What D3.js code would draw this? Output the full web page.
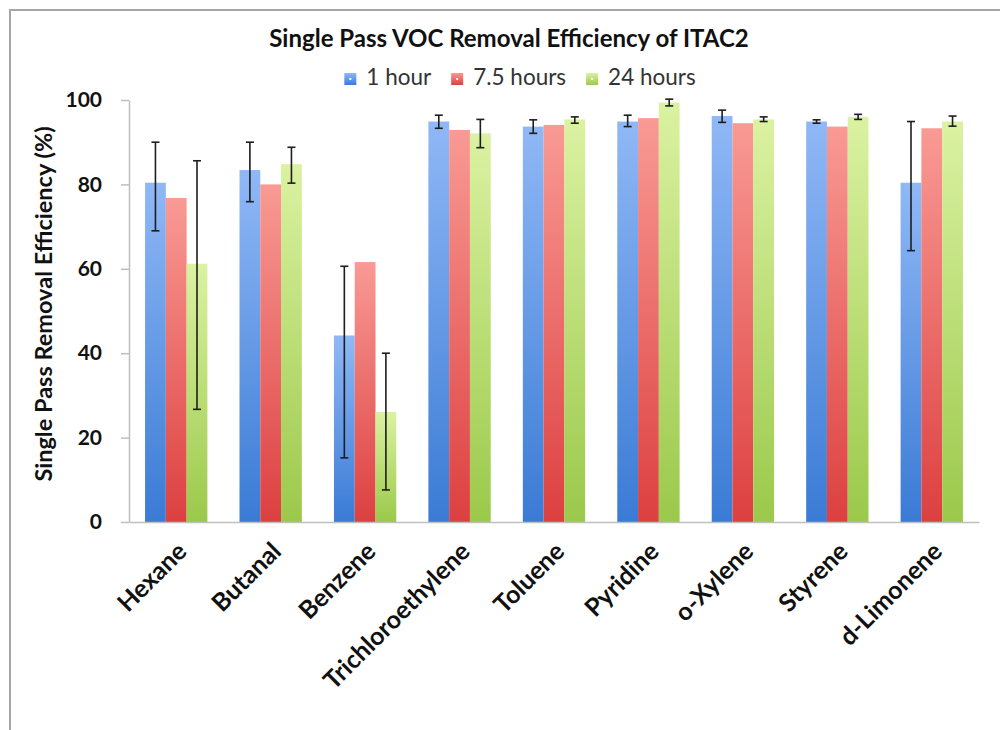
<!DOCTYPE html>
<html>
<head>
<meta charset="utf-8">
<script src="https://cdn.jsdelivr.net/npm/d3@7"></script>
<style>
  body { margin: 0; background: #fff; }
  svg { display: block; font-family: Lato, "Open Sans", sans-serif; }
</style>
</head>
<body>
<svg id="canvas"></svg>
<script>
// chart data
let compounds = ["Hexane", "Butanal", "Benzene", "Trichloroethylene", "Toluene",
  "Pyridine", "o-Xylene", "Styrene", "d-Limonene"];
let seriesNames = ["1 hour", "7.5 hours", "24 hours"];

let hour1 = [80.4, 83.4, 44.2, 94.9, 93.7, 94.9, 96.2, 94.9, 80.4];
let hour7 = [76.8, 80.0, 61.6, 92.9, 94.1, 95.7, 94.5, 93.7, 93.3];
let hour24 = [61.2, 84.8, 26.1, 92.1, 95.4, 99.4, 95.4, 96.0, 94.9];

// error bar ends (low / high)
let hour1Lo = [69.0, 75.9, 15.2, 93.3, 92.1, 93.7, 94.7, 94.5, 64.3];
let hour1Hi = [90.0, 90.0, 60.6, 96.4, 95.3, 96.4, 97.6, 95.3, 94.9];
let hour24Lo = [26.7, 80.3, 7.6, 88.7, 94.5, 98.6, 94.9, 95.4, 93.8];
let hour24Hi = [85.6, 88.8, 40.0, 95.4, 96.0, 100.2, 96.0, 96.6, 96.2];

let yTicks = [0, 20, 40, 60, 80, 100];

let width = 1000;
let height = 730;
let plotLeft = 129, plotRight = 979, plotTop = 100, plotBottom = 522;

let canvas = d3.select("#canvas").attr("width", width).attr("height", height);

// outer chart frame
canvas.append("path")
  .attr("d", "M10,740 L10,10 L1010,10")
  .attr("fill", "none")
  .attr("stroke", "#a6a6a6")
  .attr("stroke-width", 2);

let defs = canvas.append("defs");
let gradColors = [["#90b8f6", "#3a7bd5"], ["#f99a94", "#dc4040"], ["#dbf2a2", "#9bc94b"]];
gradColors.forEach((c, i) => {
  let g = defs.append("linearGradient")
    .attr("id", "grad" + i)
    .attr("x1", 0).attr("y1", 0).attr("x2", 0).attr("y2", 1);
  g.append("stop").attr("offset", "0%").attr("stop-color", c[0]);
  g.append("stop").attr("offset", "100%").attr("stop-color", c[1]);
});

let xScale = d3.scaleBand()
  .domain(compounds)
  .range([plotLeft, plotRight])
  .paddingInner(0.34)
  .paddingOuter(0.17);

let xInner = d3.scaleBand()
  .domain(seriesNames)
  .range([0, xScale.bandwidth()]);

let yScale = d3.scaleLinear().domain([0, 100]).range([plotBottom, plotTop]);

let series = [hour1, hour7, hour24];
let rows = [];
compounds.forEach((c, i) => {
  series.forEach((s, j) => {
    rows.push({ compound: c, name: seriesNames[j], idx: j, value: s[i] });
  });
});

canvas.append("g")
  .selectAll("rect")
  .data(rows)
  .enter()
  .append("rect")
  .attr("x", (d) => xScale(d.compound) + xInner(d.name))
  .attr("y", (d) => yScale(d.value))
  .attr("width", xInner.bandwidth())
  .attr("height", (d) => yScale(0) - yScale(d.value))
  .attr("fill", (d) => "url(#grad" + d.idx + ")");

// error bars
let errs = [];
compounds.forEach((c, i) => {
  errs.push({ compound: c, name: seriesNames[0], lo: hour1Lo[i], hi: hour1Hi[i] });
  errs.push({ compound: c, name: seriesNames[2], lo: hour24Lo[i], hi: hour24Hi[i] });
});

let errG = canvas.append("g")
  .attr("stroke", "#1e1e1e")
  .attr("stroke-width", 1.6);

let cx = (d) => xScale(d.compound) + xInner(d.name) + xInner.bandwidth() / 2;

errG.selectAll(".stem")
  .data(errs)
  .enter()
  .append("line")
  .attr("x1", cx).attr("x2", cx)
  .attr("y1", (d) => yScale(d.lo))
  .attr("y2", (d) => yScale(d.hi));

errG.selectAll(".capTop")
  .data(errs)
  .enter()
  .append("line")
  .attr("x1", (d) => cx(d) - 4).attr("x2", (d) => cx(d) + 4)
  .attr("y1", (d) => yScale(d.hi)).attr("y2", (d) => yScale(d.hi));

errG.selectAll(".capBottom")
  .data(errs)
  .enter()
  .append("line")
  .attr("x1", (d) => cx(d) - 4).attr("x2", (d) => cx(d) + 4)
  .attr("y1", (d) => yScale(d.lo)).attr("y2", (d) => yScale(d.lo));

// axes
let yAxis = d3.axisLeft(yScale).tickValues(yTicks).tickSize(8).tickSizeOuter(0).tickPadding(19);
let yG = canvas.append("g")
  .attr("transform", "translate(" + plotLeft + ",0)")
  .call(yAxis);
yG.select(".domain").attr("stroke", "#bfbfbf").attr("stroke-width", 1.5);
yG.selectAll(".tick line").attr("stroke", "#bfbfbf").attr("stroke-width", 1.5);
yG.selectAll(".tick text")
  .attr("font-family", "Lato, sans-serif")
  .attr("font-size", 21)
  .attr("font-weight", "bold")
  .attr("fill", "#111");

let xAxis = d3.axisBottom(xScale).tickSize(0).tickSizeOuter(0);
let xG = canvas.append("g")
  .attr("transform", "translate(0," + plotBottom + ")")
  .call(xAxis);
xG.select(".domain").attr("stroke", "#bfbfbf").attr("stroke-width", 1.5);
xG.selectAll(".tick text")
  .attr("font-family", "Lato, sans-serif")
  .attr("font-size", 25)
  .attr("font-weight", "bold")
  .attr("fill", "#111")
  .attr("text-anchor", "end")
  .attr("dy", 0)
  .attr("y", 0)
  .attr("transform", "translate(12,31) rotate(-45)");

// y-axis title
canvas.append("text")
  .attr("transform", "translate(52," + 304 + ") rotate(-90)")
  .attr("text-anchor", "middle")
  .attr("font-size", 23.5)
  .attr("font-weight", "bold")
  .attr("fill", "#111")
  .text("Single Pass Removal Efficiency (%)");

// title
canvas.append("text")
  .attr("x", 509)
  .attr("y", 47)
  .attr("text-anchor", "middle")
  .attr("font-size", 24)
  .attr("font-weight", "bold")
  .attr("fill", "#111")
  .text("Single Pass VOC Removal Efficiency of ITAC2");

// legend
let legend = canvas.append("g");
let lx = 0;
seriesNames.forEach((name, i) => {
  let item = legend.append("g").attr("transform", "translate(" + lx + ",0)");
  item.append("rect")
    .attr("x", 0).attr("y", -12)
    .attr("width", 12).attr("height", 12)
    .attr("fill", "url(#grad" + i + ")");
  item.append("rect")
    .attr("x", 5).attr("y", -7)
    .attr("width", 2).attr("height", 2)
    .attr("fill", "#fff");
  let t = item.append("text")
    .attr("x", 22)
    .attr("y", 0)
    .attr("font-size", 22.5)
    .attr("fill", "#333")
    .text(name);
  lx += 22 + t.node().getComputedTextLength() + 20;
});
let legendWidth = lx - 20;
legend.attr("transform", "translate(" + (520 - legendWidth / 2) + ",85)");
</script>
</body>
</html>
